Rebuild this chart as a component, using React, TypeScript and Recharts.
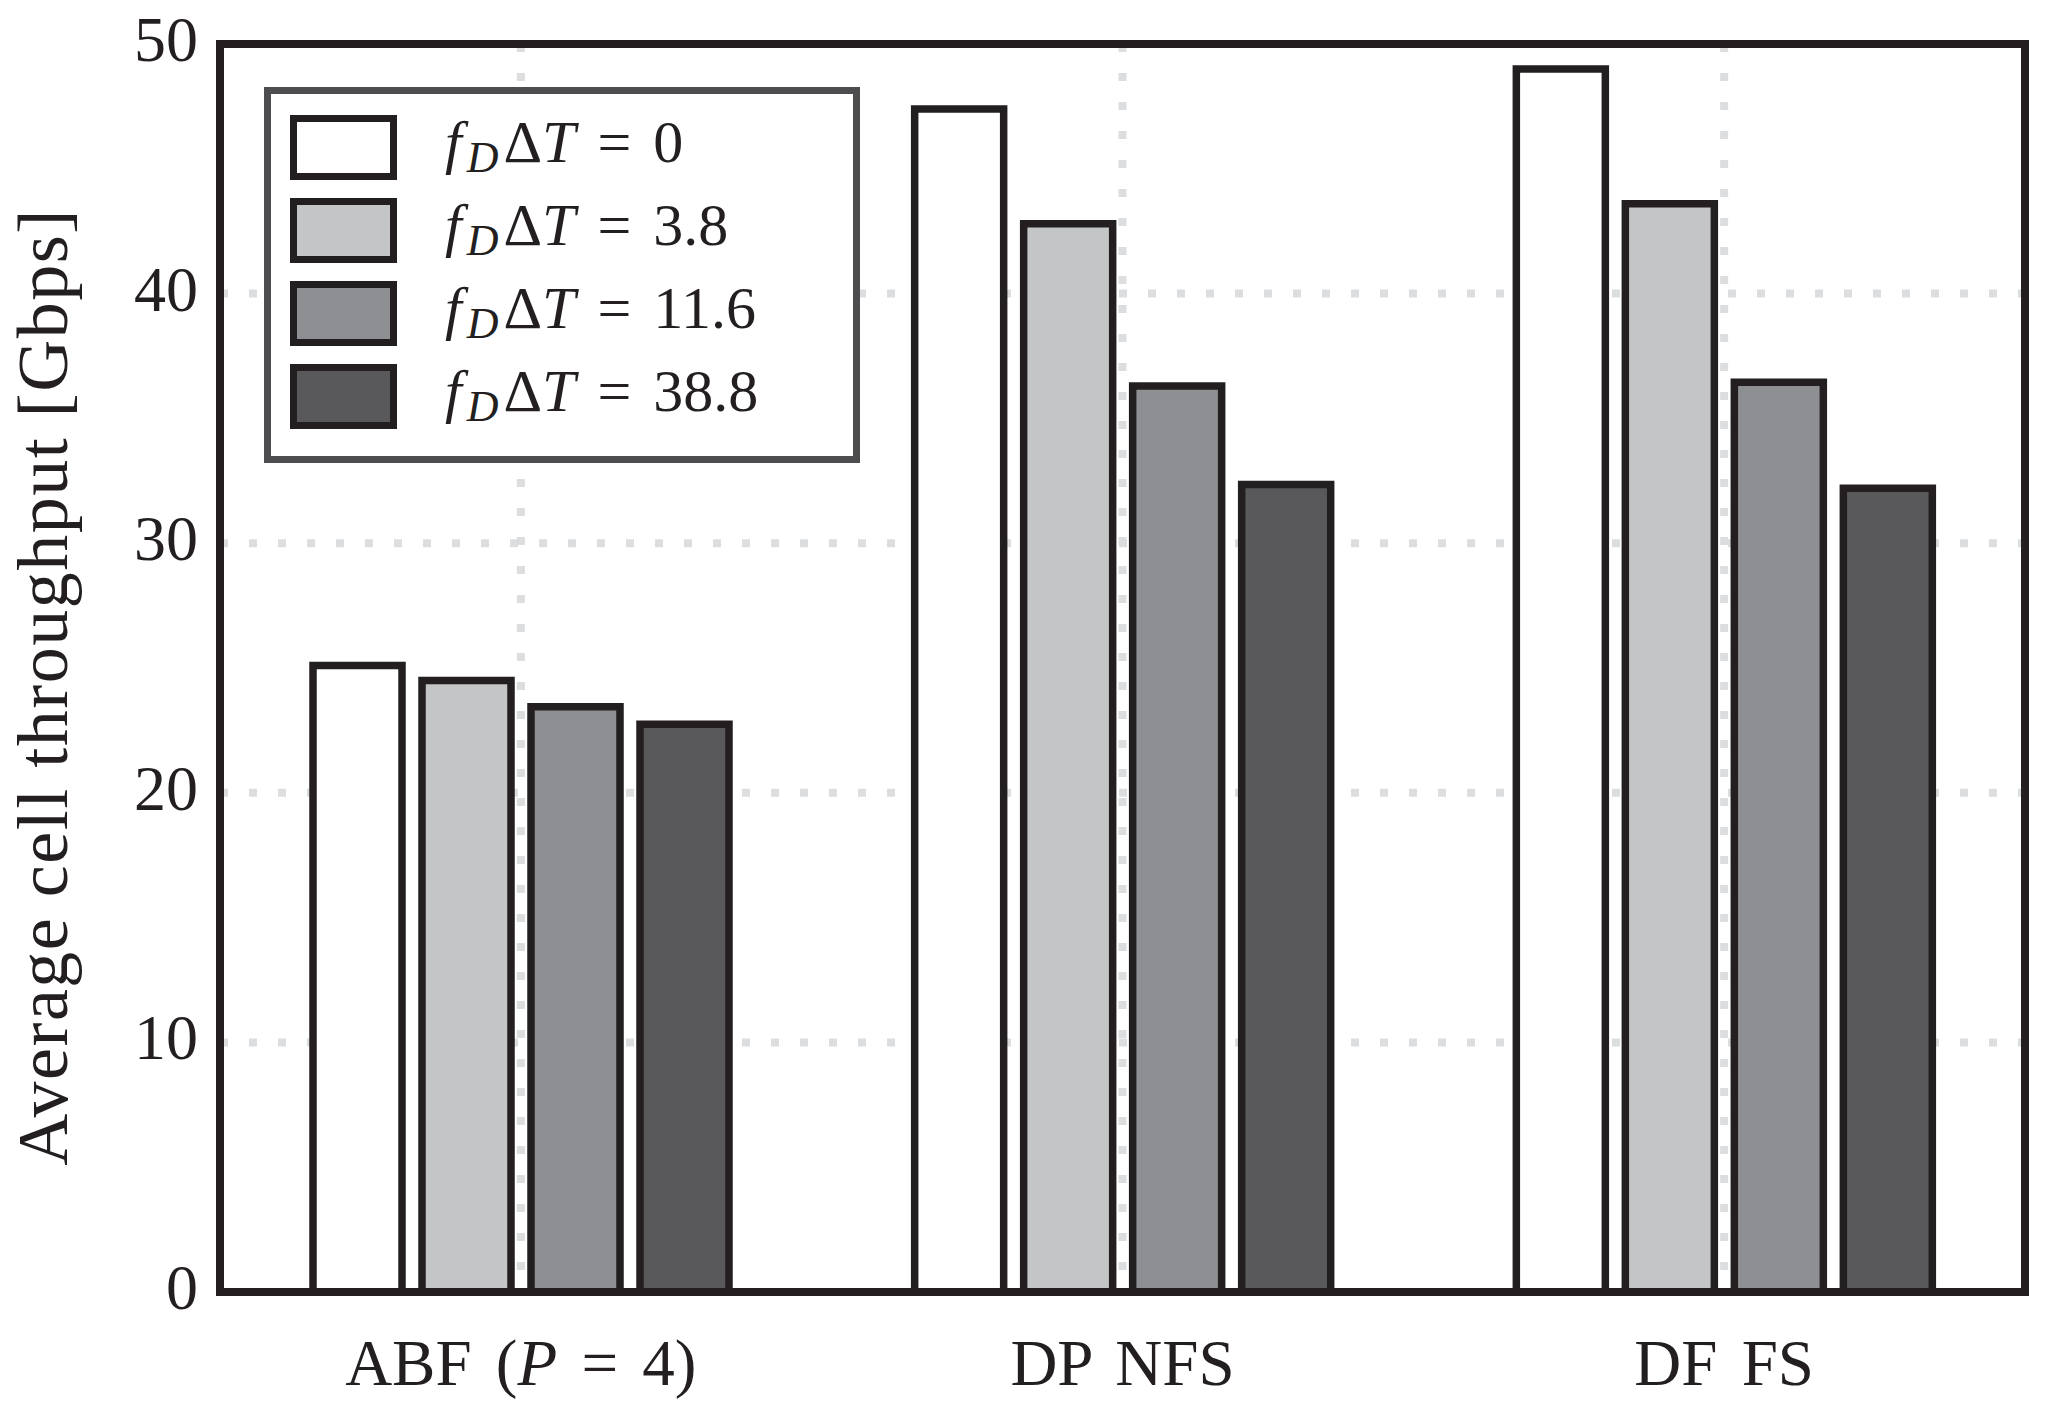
import { BarChart, Bar, XAxis, YAxis, CartesianGrid, Legend, Label } from "recharts";

const categories = ["ABF (P = 4)", "DP NFS", "DF FS"];
const dopplerValues = ["0", "3.8", "11.6", "38.8"];
const throughputD0 = [25.1, 47.4, 49.0];
const throughputD38 = [24.5, 42.8, 43.6];
const throughputD116 = [23.45, 36.3, 36.45];
const throughputD388 = [22.75, 32.35, 32.2];
const yTicks = [0, 10, 20, 30, 40, 50];

const seriesValues = [throughputD0, throughputD38, throughputD116, throughputD388];
const fills = ["#ffffff", "#c4c5c7", "#8e8f93", "#59595b"];

const INK = "#231f20";
const FONT = "'Liberation Serif', serif";

const data = categories.map((name, i) => {
  const row: Record<string, string | number> = { name };
  seriesValues.forEach((vals, s) => {
    row["s" + s] = vals[i];
  });
  return row;
});

const YTick = ({ x, y, payload }: any) => (
  <text x={x} y={y} dy={17} textAnchor="end" fontSize={64} fill={INK} fontFamily={FONT}>
    {payload.value}
  </text>
);

// italicise a lone "P" (math variable) in the category names
const XTick = ({ x, y, payload }: any) => {
  const parts = String(payload.value).split(/(\bP\b)/);
  return (
    <text x={x} y={y} textAnchor="middle" fontSize={65} fill={INK} fontFamily={FONT} style={{ wordSpacing: "8px" }}>
      {parts.map((p, i) =>
        p === "P" ? (
          <tspan key={i} fontStyle="italic">
            {p}
          </tspan>
        ) : (
          <tspan key={i}>{p}</tspan>
        )
      )}
    </text>
  );
};

const YLabel = ({ viewBox }: any) => {
  const x = viewBox.x + 67;
  const y = viewBox.y + viewBox.height / 2 + 19;
  return (
    <text
      x={x}
      y={y}
      transform={`rotate(-90, ${x}, ${y})`}
      textAnchor="middle"
      fontSize={72}
      fill={INK}
      fontFamily={FONT}
      letterSpacing={1.5}
    >
      Average cell throughput [Gbps]
    </text>
  );
};

const renderLegend = (props: any) => {
  const { payload } = props;
  return (
    <svg width={596} height={376}>
      <rect x={3.5} y={3.5} width={589} height={369} fill="#fff" stroke="#4d4d4f" strokeWidth={7} />
      {payload.map((entry: any, i: number) => (
        <g key={i} transform={`translate(0, ${i * 83})`}>
          <rect x={29.5} y={31.5} width={100} height={58} fill={entry.color} stroke={INK} strokeWidth={7} />
          <text x={181} y={75} fontSize={60} fill={INK} fontFamily={FONT}>
            <tspan fontStyle="italic">f</tspan>
            <tspan fontStyle="italic" fontSize={44} dy={10} dx={5}>
              D
            </tspan>
            <tspan dy={-10} dx={5}>Δ</tspan>
            <tspan fontStyle="italic">T</tspan>
            <tspan dx={22}>=</tspan>
            <tspan dx={22}>{entry.value}</tspan>
          </text>
        </g>
      ))}
    </svg>
  );
};

const axisLine = { stroke: INK, strokeWidth: 8, strokeLinecap: "square" as const };
const tickLine = { stroke: INK, strokeWidth: 8 };

export default function App() {
  return (
    <div style={{ position: "absolute", left: 0, top: 0, background: "#fff" }}>
      <BarChart
        width={2051}
        height={1414}
        data={data}
        margin={{ top: 44, right: 26, left: 0, bottom: 0 }}
        barSize={89}
        barGap={20}
      >
        <CartesianGrid stroke="#dcdddf" strokeWidth={8} strokeDasharray="8 21" />
        {seriesValues.map((_, s) => (
          <Bar
            key={s}
            dataKey={"s" + s}
            name={dopplerValues[s]}
            fill={fills[s]}
            stroke={INK}
            strokeWidth={7.5}
            isAnimationActive={false}
          />
        ))}
        <XAxis
          dataKey="name"
          height={122}
          tickLine={false}
          tickSize={0}
          tickMargin={93}
          tick={<XTick />}
          axisLine={axisLine}
        />
        <XAxis
          xAxisId="bottomTicks"
          dataKey="name"
          orientation="bottom"
          mirror
          tick={false}
          tickSize={22}
          tickLine={tickLine}
          axisLine={false}
        />
        <XAxis
          xAxisId="top"
          dataKey="name"
          orientation="top"
          mirror
          tick={false}
          tickSize={22}
          tickLine={tickLine}
          axisLine={axisLine}
        />
        <YAxis
          width={220}
          type="number"
          domain={[0, 50]}
          ticks={yTicks}
          tickLine={false}
          tickSize={0}
          tickMargin={22}
          tick={<YTick />}
          axisLine={axisLine}
        >
          <Label content={<YLabel />} />
        </YAxis>
        <YAxis
          yAxisId="leftTicks"
          type="number"
          domain={[0, 50]}
          ticks={yTicks}
          allowDataOverflow
          mirror
          tick={false}
          tickSize={22}
          tickLine={tickLine}
          axisLine={false}
        />
        <YAxis
          yAxisId="right"
          orientation="right"
          type="number"
          domain={[0, 50]}
          ticks={yTicks}
          allowDataOverflow
          mirror
          tick={false}
          tickSize={22}
          tickLine={tickLine}
          axisLine={axisLine}
        />
        <Legend
          layout="horizontal"
          verticalAlign="middle"
          align="center"
          itemSorter="dataKey"
          wrapperStyle={{ left: 264, top: 87, width: 596, height: 376 }}
          content={renderLegend}
        />
      </BarChart>
    </div>
  );
}
